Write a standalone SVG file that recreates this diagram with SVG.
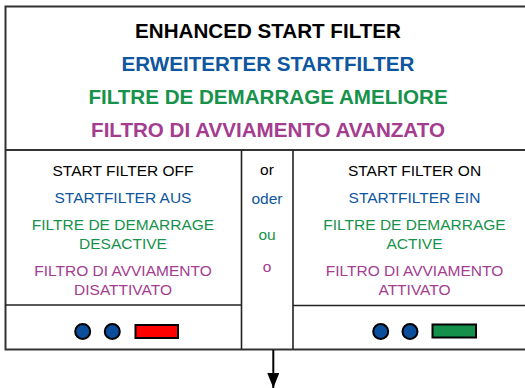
<svg xmlns="http://www.w3.org/2000/svg" width="525" height="388" viewBox="0 0 525 388">
<defs>
<style>
.frame{fill:none;stroke:#333;stroke-width:2}
.div{fill:none;stroke:#222;stroke-width:1.6}
text{font-family:"Liberation Sans",Arial,Helvetica,sans-serif;text-anchor:middle}
.t{font-size:20.6px;font-weight:bold}
.b{font-size:15.5px}
.k{fill:#000}
.bl{fill:#0E56A0}
.gr{fill:#17924B}
.pu{fill:#A43D90}
.dot{fill:#0B4F9C;stroke:#000;stroke-width:2}
.led{stroke:#000;stroke-width:2}
</style>
<marker id="ah" markerWidth="15" markerHeight="12" refX="15" refY="6" orient="auto" markerUnits="userSpaceOnUse" viewBox="0 0 15 12">
<path d="M0,0 L15,6 L0,12 Z" fill="#000"/>
</marker>
</defs>
<rect x="0" y="0" width="525" height="388" fill="#fff"/>
<g id="frame">
<rect class="frame" x="5.5" y="6.5" width="530" height="343"/>
<line class="frame" x1="5" y1="150" x2="530" y2="150"/>
</g>
<g id="title">
<text class="t k" x="268" y="38">ENHANCED START FILTER</text>
<text class="t bl" x="268" y="71">ERWEITERTER STARTFILTER</text>
<text class="t gr" x="268" y="104">FILTRE DE DEMARRAGE AMELIORE</text>
<text class="t pu" x="268" y="137">FILTRO DI AVVIAMENTO AVANZATO</text>
</g>
<g id="panel-off">
<line class="div" x1="5" y1="305" x2="241" y2="305"/>
<text class="b k" x="123" y="176">START FILTER OFF</text>
<text class="b bl" x="123" y="203">STARTFILTER AUS</text>
<text class="b gr" x="123" y="230">FILTRE DE DEMARRAGE</text>
<text class="b gr" x="123" y="249">DESACTIVE</text>
<text class="b pu" x="123" y="276">FILTRO DI AVVIAMENTO</text>
<text class="b pu" x="123" y="295">DISATTIVATO</text>
<circle class="dot" cx="82.7" cy="331.5" r="7.5"/>
<circle class="dot" cx="112.3" cy="331.5" r="7.5"/>
<rect class="led" x="135.5" y="325" width="42.5" height="13" fill="#FF0000"/>
</g>
<g id="or-column">
<line class="div" x1="241.5" y1="150" x2="241.5" y2="349"/>
<line class="div" x1="293" y1="150" x2="293" y2="349"/>
<text class="b k" x="267" y="175">or</text>
<text class="b bl" x="267" y="204">oder</text>
<text class="b gr" x="267" y="240">ou</text>
<text class="b pu" x="267" y="272">o</text>
</g>
<g id="panel-on">
<line class="div" x1="293" y1="305.5" x2="530" y2="305.5"/>
<text class="b k" x="414.5" y="176">START FILTER ON</text>
<text class="b bl" x="414.5" y="203">STARTFILTER EIN</text>
<text class="b gr" x="414.5" y="230">FILTRE DE DEMARRAGE</text>
<text class="b gr" x="414.5" y="249">ACTIVE</text>
<text class="b pu" x="414.5" y="276">FILTRO DI AVVIAMENTO</text>
<text class="b pu" x="414.5" y="295">ATTIVATO</text>
<circle class="dot" cx="380.7" cy="331.5" r="7.5"/>
<circle class="dot" cx="410" cy="331.5" r="7.5"/>
<rect class="led" x="432.5" y="324.5" width="43.5" height="13" fill="#14904A"/>
</g>
<g id="connectors">
<line x1="273.3" y1="350" x2="273.3" y2="388" stroke="#000" stroke-width="2" marker-end="url(#ah)"/>
</g>
</svg>
